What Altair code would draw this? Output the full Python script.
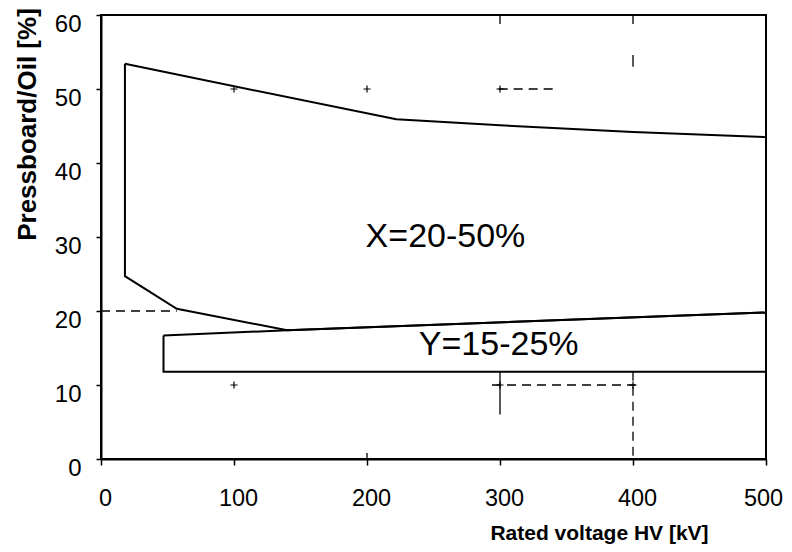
import altair as alt
import pandas as pd

# Region X polygon (closed)
x_poly_v = [18, 222, 300, 400, 500, 500, 140, 57, 18, 18]
x_poly_p = [53.4, 45.9, 45.1, 44.2, 43.5, 19.8, 17.4, 20.3, 24.7, 53.4]
# Region Y polygon (closed)
y_poly_v = [47, 140, 500, 500, 47, 47]
y_poly_p = [16.7, 17.4, 19.8, 11.8, 11.8, 16.7]

# residual grid marks from the scan
seg_x = [0, 299, 294, 300, 400, 400, 300, 400, 200]
seg_x2 = [57, 342, 402, 300, 400, 400, 300, 400, 200]
seg_y = [20, 50, 10, 11.8, 11.8, 54.6, 60, 60, 0]
seg_y2 = [20, 50, 10, 6, 0, 53.0, 58.8, 58.8, 0.8]
seg_style = ["dash", "dash", "dash", "solid", "dash", "solid", "solid", "solid", "solid"]

cross_x = [100, 200, 300, 100, 300, 400]
cross_y = [50, 50, 50, 10, 10, 10]

labels = ["X=20-50%", "Y=15-25%"]
label_x = [259, 299]
label_y = [30, 15.4]

x_ticks = [0, 100, 200, 300, 400, 500]
y_ticks = [0, 10, 20, 30, 40, 50, 60]

FONT = "Liberation Sans"

poly_rows = []
for i, (v, p) in enumerate(zip(x_poly_v, x_poly_p)):
    poly_rows.append({"shape": "X", "order": i, "v": v, "p": p})
for i, (v, p) in enumerate(zip(y_poly_v, y_poly_p)):
    poly_rows.append({"shape": "Y", "order": i, "v": v, "p": p})
poly_df = pd.DataFrame(poly_rows)

seg_df = pd.DataFrame({"x": seg_x, "x2": seg_x2, "y": seg_y, "y2": seg_y2, "style": seg_style})
cross_df = pd.DataFrame({"x": cross_x, "y": cross_y})
lab_df = pd.DataFrame({"t": labels, "x": label_x, "y": label_y})

xscale = alt.Scale(domain=[0, 500], nice=False, zero=False)
yscale = alt.Scale(domain=[0, 60], nice=False, zero=False)

xaxis = alt.Axis(
    values=x_ticks, title="Rated voltage HV [kV]", grid=False,
    labelFont=FONT, labelFontSize=23.5, labelColor="black", labelPadding=21,
    labelOffset={"condition": {"test": "datum.value == 500", "value": -3}, "value": 4},
    labelFlush=False,
    tickSize=6, tickColor="black", tickWidth=1.5,
    domainColor="black", domainWidth=2,
    titleFont=FONT, titleFontSize=21, titleFontWeight="bold", titleColor="black",
    titleX=498, titleY=80, titleAlign="center", titleBaseline="alphabetic",
)
yaxis = alt.Axis(
    values=y_ticks, title="Pressboard/Oil [%]", grid=False,
    labelFont=FONT, labelFontSize=24, labelColor="black", labelPadding=15,
    labelOffset=9, labelFlush=False,
    tickSize=5, tickColor="black", tickWidth=1.5,
    domainColor="black", domainWidth=2,
    titleFont=FONT, titleFontSize=26, titleFontWeight="bold", titleColor="black",
    titleX=-66, titleY=109, titleAlign="center", titleBaseline="alphabetic",
    titleAngle=270,
)

polys = alt.Chart(poly_df).mark_line(color="black", strokeWidth=2, strokeJoin="miter").encode(
    x=alt.X("v:Q", scale=xscale, axis=xaxis),
    y=alt.Y("p:Q", scale=yscale, axis=yaxis),
    detail="shape:N",
    order="order:Q",
)

segs = alt.Chart(seg_df).mark_rule(color="black", strokeWidth=1.3).encode(
    x=alt.X("x:Q", scale=xscale),
    x2="x2",
    y=alt.Y("y:Q", scale=yscale),
    y2="y2",
    strokeDash=alt.StrokeDash("style:N", scale=alt.Scale(domain=["dash", "solid"], range=[[9, 6], [1, 0]]), legend=None),
)

crosses = alt.Chart(cross_df).mark_point(
    shape="M-1,0L1,0M0,-1L0,1", filled=False, color="black", strokeWidth=1.2, size=50, opacity=1
).encode(
    x=alt.X("x:Q", scale=xscale),
    y=alt.Y("y:Q", scale=yscale),
)

texts = alt.Chart(lab_df).mark_text(font=FONT, fontSize=34, color="black", align="center", baseline="middle").encode(
    x=alt.X("x:Q", scale=xscale),
    y=alt.Y("y:Q", scale=yscale),
    text="t:N",
)

chart = alt.layer(segs, crosses, polys, texts).properties(
    width=665, height=444,
    autosize=alt.AutoSizeParams(type="none"),
    padding={"left": 93, "top": 7, "right": 18, "bottom": 85},
    background="white",
).configure_view(stroke="black", strokeWidth=2)

chart.save("out.html", embed_options={"renderer": "svg", "actions": False})
